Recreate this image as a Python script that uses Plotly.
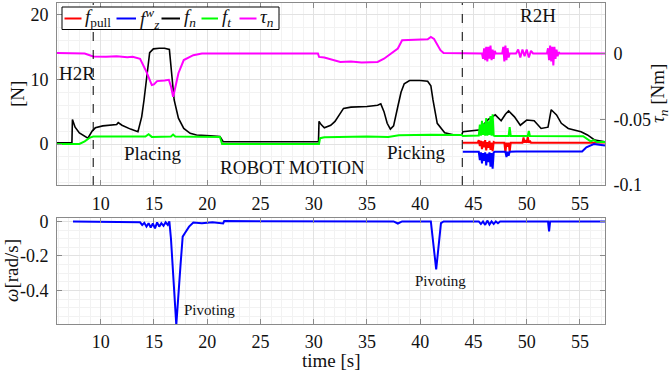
import plotly.graph_objects as go

# ---------------- data ----------------
t_fn = [5.9, 7.3, 7.35, 7.6, 8.0, 8.4, 8.8, 9.2, 9.5, 10.2, 11.0, 11.5, 11.65, 12.0, 12.8, 13.5, 13.85, 14.07,
        14.6, 14.95, 15.5, 16.0, 16.45, 16.7, 16.9, 17.3, 17.8, 18.4, 19.0, 20.3, 21.2, 21.5, 25.0, 30.45, 30.5,
        30.7, 31.0, 31.6, 32.0, 32.4, 32.8, 33.5, 35.0, 36.0, 36.3, 36.6, 36.9, 37.2, 37.5, 37.9, 38.2, 38.5,
        39.0, 40.0, 40.7, 41.0, 41.2, 41.6, 42.3, 43.2, 43.9, 44.0, 45.7, 45.9, 46.4, 46.75, 47.05, 47.6, 48.0,
        48.3, 48.85, 49.4, 50.0, 50.7, 51.35, 52.0, 52.3, 52.8, 53.25, 53.9, 55.1, 55.7, 56.4, 57.35]
f_n = [0.2, 0.2, 3.8, 2.6, 1.7, 1.3, 0.9, 2.0, 2.5, 2.8, 2.9, 3.0, 3.3, 2.9, 2.3, 1.9, 4.2, 6.8,
       14.1, 14.7, 14.8, 14.8, 14.6, 10.4, 6.8, 4.0, 2.4, 1.65, 1.4, 1.25, 1.15, 0.35, 0.35, 0.35, 3.5,
       3.0, 2.5, 2.9, 3.5, 4.5, 5.5, 5.7, 5.8, 6.0, 6.2, 5.0, 3.2, 2.3, 2.8, 5.8, 8.0, 9.3,
       9.8, 9.8, 9.7, 9.0, 6.8, 3.2, 1.75, 1.4, 1.4, 1.9, 2.2, 2.9, 3.8, 4.2, 4.5, 3.6, 4.6,
       5.1, 4.2, 2.9, 3.7, 3.6, 2.4, 2.6, 5.3, 4.5, 3.2, 2.4, 1.9, 1.4, 0.6, 0.35]

t_ft = [5.9, 8.0, 8.5, 9.0, 9.3, 12.0, 14.2, 14.5, 14.8, 16.6, 16.8, 17.0, 21.2, 21.4, 30.5, 30.6, 31.0, 35.0,
        37.0, 38.0, 41.0, 43.9, 44.0, 45.5, 45.6, 45.7, 45.8, 45.9, 46.0, 46.1, 46.2, 46.3, 46.4, 46.5, 46.6,
        46.7, 46.8, 46.9, 47.0, 48.3, 48.4, 48.5, 50.1, 50.2, 50.3, 55.3, 55.6, 56.0, 56.3, 56.6, 57.35]
f_t = [0.0, 0.0, 0.4, 1.0, 1.15, 1.1, 1.15, 1.5, 1.1, 1.15, 1.45, 1.15, 1.1, 0.0, 0.0, 0.9, 1.05, 1.15,
       1.1, 1.35, 1.45, 1.4, 1.25, 1.3, 3.0, 1.3, 3.6, 1.4, 3.2, 1.3, 4.0, 1.3, 3.5, 1.4, 4.3,
       1.3, 4.6, 1.3, 1.25, 1.25, 2.6, 1.25, 1.25, 2.0, 1.25, 1.2, 0.9, 0.4, 0.6, 0.3, 0.3]

t_pull = [44.0, 45.4, 45.5, 45.6, 45.7, 45.8, 45.9, 46.0, 46.1, 46.2, 46.3, 46.4, 46.5, 46.6, 46.7, 46.8, 46.9,
          47.0, 47.9, 48.0, 48.1, 48.2, 48.3, 48.4, 48.5, 49.6, 49.7, 49.8, 49.9, 50.0, 50.1, 50.2, 50.3, 50.4,
          55.8, 57.35]
f_pull = [0.2, 0.2, 0.6, -0.3, 0.5, -0.8, 0.4, -0.5, 0.6, -1.0, 0.3, -0.6, 0.5, -0.9, 0.2, -1.1, 0.3,
          0.2, 0.2, -1.3, 0.2, -0.4, 0.2, -1.2, 0.2, 0.2, 1.0, 0.2, 0.6, 0.2, 1.1, 0.2, 0.5, 0.2,
          0.2, 0.25]

t_fzw = [44.0, 45.5, 45.6, 45.7, 45.8, 45.9, 46.0, 46.1, 46.2, 46.3, 46.4, 46.5, 46.6, 46.7, 46.8, 46.9, 47.0,
         48.0, 48.1, 48.2, 48.3, 48.4, 49.0, 52.0, 55.2, 55.6, 56.3, 57.35]
f_zw = [-1.2, -1.2, -2.5, -1.3, -3.0, -1.4, -2.6, -1.3, -3.3, -1.5, -2.8, -1.3, -3.5, -1.4, -3.8, -1.3, -1.2,
        -1.2, -2.0, -1.2, -1.8, -1.2, -1.15, -1.1, -1.15, -0.5, 0.0, -0.25]

t_tau = [5.9, 8.5, 9.3, 10.5, 11.5, 12.5, 13.0, 13.7, 14.3, 14.8, 15.0, 15.3, 16.0, 16.4, 16.6, 16.8, 17.0,
         17.3, 17.8, 18.7, 19.5, 30.4, 30.5, 31.0, 32.5, 33.5, 34.5, 36.0, 36.6, 37.9, 38.3, 39.5, 40.7, 41.0,
         41.3, 41.9, 42.2, 45.8,
         45.9, 46.0, 46.1, 46.2, 46.3, 46.4, 46.5, 46.6, 46.7, 46.8, 46.9, 47.0, 47.1,
         47.7, 47.8, 47.9, 48.0, 48.1, 48.2, 48.3, 48.4,
         49.0, 49.2, 49.4, 49.6, 49.8, 50.0, 50.2, 50.4, 50.6,
         51.9, 52.0, 52.1, 52.2, 52.3, 52.4, 52.5, 52.6, 52.7, 52.8, 52.9, 53.0, 53.1, 57.35]
tau_n = [0.0003, 0.0, -0.0022, -0.0025, -0.002, -0.0028, -0.0025, -0.004, -0.014, -0.024, -0.0235, -0.021,
         -0.0205, -0.020, -0.025, -0.033, -0.026, -0.015, -0.005, -0.0013, 0.0, 0.0, -0.0026, -0.003, -0.0064,
         -0.006, -0.0068, -0.0064, -0.004, 0.0038, 0.010, 0.0105, 0.0108, 0.0126, 0.011, 0.0025, 0.0003, 0.0,
         -0.004, 0.004, -0.005, 0.005, -0.006, 0.005, -0.004, 0.006, -0.005, 0.003, -0.004, 0.002, 0.0,
         0.0, 0.005, -0.006, 0.006, -0.005, 0.004, -0.003, 0.0,
         0.0, 0.003, -0.003, 0.003, -0.002, 0.003, -0.003, 0.002, 0.0,
         0.0, 0.004, -0.005, 0.006, -0.006, 0.005, -0.009, 0.005, -0.004, 0.003, -0.002, 0.001, 0.0, 0.0]

t_w = [7.4, 10.0, 13.7, 13.9, 14.1, 14.3, 14.5, 14.7, 14.9, 15.1, 15.3, 15.5, 15.7, 15.9, 16.1, 16.3, 16.45,
       16.6, 17.1, 17.5, 17.7, 17.9, 18.3, 18.7, 19.5, 20.5, 21.5, 21.6, 37.5, 37.9, 38.3, 41.0, 41.5, 41.95,
       42.2, 45.5, 45.7, 45.9, 46.1, 46.3, 46.5, 46.7, 46.9, 47.1, 47.3, 47.5, 52.0, 52.1, 52.2, 57.35]
omega = [0.0, -0.003, -0.005, -0.02, -0.008, -0.03, -0.01, -0.035, -0.012, -0.04, -0.005, -0.03, -0.01,
         -0.025, -0.005, -0.02, 0.0, -0.1, -0.6, -0.25, -0.088, -0.068, -0.03, -0.006, -0.01, -0.005, -0.012,
         0.002, 0.0, -0.012, 0.0, 0.0, -0.278, -0.01, 0.0, 0.0, -0.015, 0.0, -0.02, 0.005, -0.018, 0.0,
         -0.015, 0.0, -0.01, 0.0, 0.0, -0.058, 0.0, 0.0]

phase_times = [9.3, 43.95]          # H2R / R2H boundaries
x_ticks = [10, 15, 20, 25, 30, 35, 40, 45, 50, 55]
yl_ticks = [0, 10, 20]
yr_ticks = [-0.1, -0.05, 0]
yr_text = ["-0.1", "-0.05", "0"]
w_ticks = [-0.4, -0.2, 0]
w_text = ["-0.4", "-0.2", "0"]

names = ["f_pull", "f_z^w", "f_n", "f_t", "tau_n"]
legend_labels = ["<i>f</i><sub>pull</sub>", "<i>f</i><sup><i>w</i></sup><sub><i>z</i></sub>",
                 "<i>f</i><sub><i>n</i></sub>", "<i>f</i><sub><i>t</i></sub>", "<i>τ</i><sub><i>n</i></sub>"]
colors = ["#ff0000", "#0000ff", "#000000", "#00ff00", "#ff00ff"]

# ---------------- layout geometry (pixels) ----------------
W, H = 671, 372
L, R = 57, 605
T1, B1 = 3, 185
T2, B2 = 218, 324
FONT = "Liberation Serif"


def px(x):
    return (x - L) / (R - L)


def py(y):
    return (B2 - y) / (B2 - T1)


fig = go.Figure()
series = [(t_pull, f_pull), (t_fzw, f_zw), (t_fn, f_n), (t_ft, f_t)]
for (tt, vv), nm, c in zip(series, names[:4], colors[:4]):
    fig.add_trace(go.Scatter(x=tt, y=vv, mode="lines", name=nm, showlegend=False,
                             line=dict(color=c, width=1.6 if c == "#000000" else 2),
                             xaxis="x", yaxis="y"))
fig.add_trace(go.Scatter(x=t_tau, y=tau_n, mode="lines", name=names[4], showlegend=False,
                         line=dict(color=colors[4], width=2), xaxis="x", yaxis="y2"))
fig.add_trace(go.Scatter(x=t_w, y=omega, mode="lines", name="omega", showlegend=False,
                         line=dict(color="#0000ff", width=2), xaxis="x2", yaxis="y3"))

axcol = "#8a8a8a"
grid = "#e2e2e2"
mgrid = "#f2f2f2"
tickfont = dict(family=FONT, size=18, color="#111")
titlefont = dict(family=FONT, size=19, color="#111")
xr = [5.9, 57.35]
common_x = dict(range=xr, tickvals=x_ticks, ticks="inside", ticklen=5, tickcolor=axcol,
                showline=True, linecolor=axcol, linewidth=1, mirror="ticks", automargin=False,
                showgrid=True, gridcolor=grid, zeroline=False, tickfont=tickfont,
                minor=dict(dtick=1, tick0=0, showgrid=True, gridcolor=mgrid, ticks=""))

dom_top = [py(B1), 1.0]
dom_bot = [0.0, py(T2)]

fig.update_layout(
    width=W, height=H, margin=dict(l=L, r=W - R, t=T1, b=H - B2, autoexpand=False),
    paper_bgcolor="white", plot_bgcolor="white",
    xaxis=dict(**common_x, anchor="y", domain=[0, 1], ticklabelstandoff=2),
    xaxis2=dict(**common_x, anchor="y3", domain=[0, 1], ticklabelstandoff=1),
    yaxis=dict(domain=dom_top, range=[-6.33, 21.78], tickvals=yl_ticks, ticks="inside", ticklen=5,
               tickcolor=axcol, showline=True, linecolor=axcol, linewidth=1, mirror=False, automargin=False,
               showgrid=True, gridcolor=grid, zeroline=False, tickfont=tickfont, ticklabelstandoff=4,
               minor=dict(dtick=2, tick0=0, showgrid=True, gridcolor=mgrid, ticks="")),
    yaxis2=dict(overlaying="y", side="right", anchor="x", range=[-0.1, 0.0384], tickvals=yr_ticks,
                ticktext=yr_text, ticks="inside", ticklen=5, tickcolor=axcol, showline=True, automargin=False,
                linecolor=axcol, linewidth=1, showgrid=False, zeroline=False, tickfont=tickfont,
                ticklabelstandoff=4),
    yaxis3=dict(domain=dom_bot, anchor="x2", range=[-0.594, 0.02], tickvals=w_ticks, ticktext=w_text,
                ticks="inside", ticklen=5, tickcolor=axcol, showline=True, linecolor=axcol, linewidth=1,
                mirror="ticks", showgrid=True, gridcolor=grid, zeroline=False, tickfont=tickfont,
                ticklabelstandoff=4, automargin=False,
                minor=dict(dtick=0.05, tick0=0, showgrid=True, gridcolor=mgrid, ticks="")),
)

# axis titles placed at the reference positions
fig.add_annotation(text="[N]", xref="paper", yref="paper", x=px(17), y=py(94), textangle=-90,
                   showarrow=False, xanchor="center", yanchor="middle", font=titlefont)
fig.add_annotation(text="<i>τ</i><sub><i>n</i></sub> [Nm]", xref="paper", yref="paper", x=px(659), y=py(94),
                   textangle=-90, showarrow=False, xanchor="center", yanchor="middle", font=titlefont)
fig.add_annotation(text="<i>ω</i>[rad/s]", xref="paper", yref="paper", x=px(11), y=py(271), textangle=-90,
                   showarrow=False, xanchor="center", yanchor="middle", font=titlefont)
fig.add_annotation(text="time [s]", xref="paper", yref="paper", x=px(331), y=py(361),
                   showarrow=False, xanchor="center", yanchor="middle", font=titlefont)

# phase boundaries
for t in phase_times:
    fig.add_shape(type="line", xref="x", yref="y domain", x0=t, x1=t, y0=0, y1=1,
                  line=dict(color="black", width=1, dash="dash"))


def ann(text, x, y, size=19, xanchor="center"):
    fig.add_annotation(text=text, xref="paper", yref="paper", x=px(x), y=py(y), showarrow=False,
                       xanchor=xanchor, yanchor="middle", font=dict(family=FONT, size=size, color="#111"))


ann("H2R", 57, 73, xanchor="left")
ann("Placing", 152.5, 153)
ann("ROBOT MOTION", 292, 167)
ann("Picking", 416, 152)
ann("R2H", 537.5, 15)
ann("Pivoting", 182, 310, size=15, xanchor="left")
ann("Pivoting", 440, 281, size=15)

# custom legend box
fig.add_shape(type="rect", xref="paper", yref="paper", x0=px(62), x1=px(279), y0=py(29.5), y1=py(7),
              line=dict(color="black", width=1), fillcolor="white", layer="above")
leg_lines = [(64.5, 81.5), (116.5, 136), (161.5, 180), (201.5, 218), (239.5, 256.5)]
leg_text_x = [83, 137.5, 181.5, 220, 258]
for (a, b), tx, lab, c in zip(leg_lines, leg_text_x, legend_labels, colors):
    fig.add_shape(type="line", xref="paper", yref="paper", x0=px(a), x1=px(b), y0=py(18.5), y1=py(18.5),
                  line=dict(color=c, width=2), layer="above")
    fig.add_annotation(text=lab, xref="paper", yref="paper", x=px(tx), y=py(18.5), showarrow=False,
                       xanchor="left", yanchor="middle", font=dict(family=FONT, size=19, color="#111"))

fig.write_html("out.html", config={"displayModeBar": False},
               post_script="document.body.style.margin='0';document.body.style.padding='0';")
